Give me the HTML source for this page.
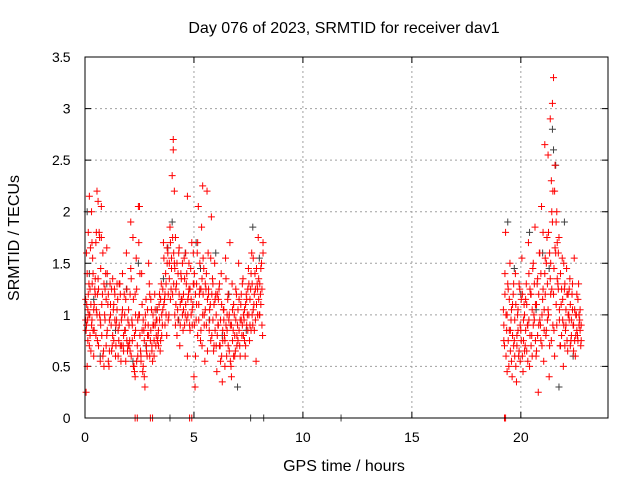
<!DOCTYPE html>
<html><head><meta charset="utf-8"><style>
body{margin:0;background:#fff;}
svg{display:block;font-family:"Liberation Sans",sans-serif;}
</style></head><body>
<svg id="chart" width="640" height="480" viewBox="0 0 640 480">
<text x="344" y="33" text-anchor="middle" font-size="16">Day 076 of 2023, SRMTID for receiver dav1</text>
<text x="344" y="471" text-anchor="middle" font-size="16">GPS time / hours</text>
<text transform="translate(19,238) rotate(-90)" text-anchor="middle" font-size="16">SRMTID / TECUs</text>
<g id="grid"></g><g id="ticks"></g><g id="gray"></g><g id="red"></g>
<rect x="85" y="57" width="523" height="361" fill="none" stroke="#000" stroke-width="1"/>
</svg>
<script>
const xTicks=[0,5,10,15,20];
const yTicks=[0,0.5,1,1.5,2,2.5,3,3.5];
const yTickLabels=["0","0.5","1","1.5","2","2.5","3","3.5"];
const redX=[0.05,0.05,0.08,0.1,0.1,0.12,0.15,0.15,0.2,0.2,0.22,0.25,0.3,0.3,0.33,0.35,0.4,0.4,0.45,0.5,0.5,0.55,0.55,0.6,0.6,0.65,0.7,0.7,0.75,0.75,0.8,0.85,0.9,0.95,1.0,1.0,1.05,1.1,1.15,1.2,1.25,1.3,1.35,1.4,1.45,1.5,1.55,1.6,1.65,1.7,1.75,1.8,1.85,1.9,1.95,2.0,2.05,2.1,2.1,2.15,2.2,2.25,2.3,2.3,2.35,2.4,2.45,2.5,2.5,2.55,2.6,2.65,2.7,2.75,2.8,2.85,2.9,2.95,3.0,3.05,3.1,3.15,3.2,3.25,3.3,3.35,3.4,3.45,3.5,3.55,3.6,3.65,3.7,3.75,3.8,3.85,3.9,3.95,4.0,4.05,4.05,4.1,4.1,4.15,4.15,4.2,4.25,4.3,4.35,4.4,4.45,4.5,4.55,4.6,4.65,4.7,4.7,4.75,4.8,4.85,4.9,4.95,5.0,5.0,5.05,5.1,5.15,5.2,5.25,5.3,5.35,5.4,5.4,5.45,5.5,5.55,5.6,5.65,5.7,5.75,5.8,5.85,5.9,5.95,6.0,6.05,6.1,6.15,6.2,6.25,6.3,6.35,6.4,6.45,6.5,6.55,6.6,6.65,6.7,6.75,6.8,6.85,6.9,6.95,7.0,7.05,7.1,7.15,7.2,7.25,7.3,7.35,7.4,7.45,7.5,7.55,7.6,7.65,7.7,7.75,7.8,7.85,7.9,7.95,8.0,8.05,8.1,8.15,
2.3,2.4,3.0,3.1,4.8,4.9,19.25,19.3,
19.2,19.25,19.3,19.35,19.4,19.45,19.5,19.55,19.6,19.65,19.7,19.75,19.8,19.85,19.9,19.95,20.0,20.05,20.1,20.15,20.2,20.25,20.3,20.35,20.4,20.45,20.5,20.55,20.6,20.65,20.7,20.75,20.8,20.85,20.9,20.95,21.0,21.05,21.1,21.1,21.15,21.2,21.25,21.25,21.3,21.35,21.35,21.4,21.4,21.45,21.45,21.5,21.5,21.55,21.55,21.6,21.65,21.65,21.7,21.75,21.8,21.85,21.9,21.95,22.0,22.05,22.1,22.15,22.2,22.25,22.3,22.35,22.4,22.45,22.5,22.55,22.6,22.65,22.7,22.75];
const redY=[0.25,0.85,1.1,0.5,1.4,0.95,1.8,1.2,2.15,0.7,1.0,1.65,2.0,0.9,1.3,1.55,1.05,0.6,1.25,0.8,1.7,2.2,1.0,2.1,1.35,1.8,0.95,0.55,1.75,2.05,1.2,0.65,1.0,1.4,0.8,1.65,1.1,0.5,1.3,0.9,0.7,1.05,1.25,0.6,0.95,1.15,0.75,1.3,0.55,1.0,0.7,1.2,0.85,1.6,0.65,1.05,0.75,1.9,1.45,0.95,1.75,0.5,1.2,0.4,1.55,0.7,2.05,2.05,1.0,0.65,1.4,0.45,0.85,0.3,1.15,0.6,0.9,1.3,0.75,1.05,0.55,0.9,1.2,0.7,0.95,0.8,1.1,0.65,1.3,0.9,1.7,1.15,1.4,0.8,1.6,1.0,1.85,1.25,2.35,2.7,2.6,1.5,2.2,1.75,0.9,1.3,1.05,1.6,0.7,1.4,1.15,0.85,1.55,1.0,1.3,2.15,0.6,1.2,0.9,1.45,1.7,1.1,0.4,1.3,0.3,0.95,1.6,2.05,1.2,0.75,1.85,2.25,1.0,1.45,0.55,1.25,2.2,1.6,0.85,1.1,1.95,1.35,0.65,1.5,1.2,0.45,0.9,1.25,0.7,1.4,0.35,1.05,0.8,1.55,0.6,1.15,0.95,1.7,0.5,1.3,0.85,1.0,0.65,1.2,0.9,1.5,0.7,1.1,0.8,1.35,0.95,0.6,1.2,1.0,1.45,0.75,1.25,1.6,0.9,1.1,1.4,0.55,1.3,1.75,1.0,1.2,1.5,0.8,
0,0,0,0,0,0,0,0,
1.05,0.7,1.8,0.85,1.3,0.5,1.5,0.95,0.4,1.2,0.75,1.4,0.35,1.0,0.6,1.25,0.85,1.55,0.45,1.1,0.7,1.3,0.9,1.7,0.5,1.2,0.8,1.45,1.0,1.85,0.6,1.3,0.25,1.6,0.9,2.05,1.15,0.55,1.4,2.65,0.8,1.75,2.55,1.05,0.4,2.9,1.35,2.3,0.75,3.05,1.9,3.3,1.2,2.2,0.6,1.6,2.0,0.9,1.3,1.75,0.7,1.1,1.55,0.5,1.25,0.85,1.45,0.65,1.0,1.35,0.75,1.2,0.9,1.55,0.6,1.0,0.8,1.3,0.95,0.7];
const redX2=[0.03,0.07,0.13,0.18,0.23,0.27,0.32,0.37,0.42,0.47,0.52,0.57,0.62,0.67,0.72,0.77,0.82,0.87,0.92,0.97,1.02,1.07,1.12,1.17,1.22,1.27,1.32,1.37,1.42,1.47,1.52,1.57,1.62,1.67,1.72,1.77,1.82,1.87,1.92,1.97,2.02,2.07,2.12,2.17,2.22,2.27,2.32,2.37,2.42,2.47,2.52,2.57,2.62,2.67,2.72,2.77,2.82,2.87,2.92,2.97,3.02,3.07,3.12,3.17,3.22,3.27,3.32,3.37,3.42,3.47,3.52,3.57,3.62,3.67,3.72,3.77,3.82,3.87,3.92,3.97,4.02,4.07,4.12,4.17,4.22,4.27,4.32,4.37,4.42,4.47,4.52,4.57,4.62,4.67,4.72,4.77,4.82,4.87,4.92,4.97,5.02,5.07,5.12,5.17,5.22,5.27,5.32,5.37,5.42,5.47,5.52,5.57,5.62,5.67,5.72,5.77,5.82,5.87,5.92,5.97,6.02,6.07,6.12,6.17,6.22,6.27,6.32,6.37,6.42,6.47,6.52,6.57,6.62,6.67,6.72,6.77,6.82,6.87,6.92,6.97,7.02,7.07,7.12,7.17,7.22,7.27,7.32,7.37,7.42,7.47,7.52,7.57,7.62,7.67,7.72,7.77,7.82,7.87,7.92,7.97,8.02,8.07,8.12,8.17];
const redY2=[1.15,0.9,1.05,1.3,0.8,1.1,0.95,1.4,0.85,1.2,1.05,0.75,1.25,1.75,0.9,1.1,0.6,1.3,0.95,1.15,0.85,1.2,0.65,1.0,1.25,0.8,1.1,0.95,0.7,1.3,0.6,0.9,1.2,0.7,1.05,0.65,0.85,1.15,0.75,0.95,0.7,1.2,0.6,0.9,0.5,0.8,1.0,0.55,0.95,1.7,0.8,0.6,1.1,0.5,0.75,0.9,0.65,1.05,0.8,1.2,0.85,0.65,1.0,0.75,0.9,0.8,1.05,0.7,0.95,1.15,1.0,1.25,1.1,0.9,1.3,1.5,1.2,1.35,1.7,1.45,1.2,1.6,1.0,1.25,1.5,0.95,1.2,1.1,1.35,1.0,1.2,0.9,1.1,1.4,1.0,1.25,0.85,1.15,1.05,1.3,0.9,1.2,1.3,0.8,1.1,1.5,1.25,0.7,1.2,1.0,1.3,0.9,1.15,1.25,1.05,0.75,1.2,0.95,1.1,0.85,1.0,0.8,1.15,0.7,0.95,0.6,0.85,1.05,0.75,0.9,0.85,0.7,1.0,0.55,0.9,0.75,1.1,0.6,0.95,0.8,1.05,0.85,0.95,1.2,0.9,1.0,0.75,1.1,0.9,1.25,1.0,1.15,0.85,1.3,1.05,1.2,0.95,1.1,1.25,1.35,1.3,1.1,1.25,1.7];
const redY3=[0.95,1.6,0.75,1.0,1.25,0.65,1.7,0.85,1.1,1.35,1.8,1.2,0.7,1.0,1.45,0.8,1.6,0.5,1.25,0.7,1.4,0.55,0.95,1.1,0.65,1.35,0.75,1.2,0.9,1.05,0.85,1.3,0.7,0.95,1.4,0.8,1.0,0.55,1.25,0.7,0.9,0.65,1.35,0.75,1.15,0.45,0.85,1.25,0.6,1.0,1.4,0.55,0.85,0.95,0.4,1.0,0.7,0.8,1.5,0.6,1.15,0.7,0.9,0.6,1.05,0.95,0.75,0.85,1.2,0.75,0.8,1.05,1.55,1.2,1.0,1.65,0.95,1.5,1.15,1.55,1.75,1.3,1.45,1.1,0.8,1.4,1.65,0.9,1.15,1.5,1.05,1.35,1.6,0.95,1.15,1.5,1.25,1.0,0.9,1.6,1.4,0.6,1.1,1.7,0.95,1.25,0.85,1.35,1.55,0.9,1.05,1.4,0.65,1.2,0.95,1.55,0.8,1.3,0.7,1.15,0.7,1.2,0.9,1.3,0.55,1.1,0.75,0.95,0.5,1.35,1.0,1.2,0.65,0.9,0.4,1.05,0.6,0.8,1.25,0.7,0.75,1.15,0.6,0.95,1.3,0.8,1.05,0.7,1.15,0.85,1.3,0.9,1.4,1.0,1.55,0.85,1.25,1.45,1.0,1.15,1.0,1.45,0.9,1.6];
const redX4=[19.22,19.27,19.32,19.37,19.42,19.47,19.52,19.57,19.62,19.67,19.72,19.77,19.82,19.87,19.92,19.97,20.02,20.07,20.12,20.17,20.22,20.27,20.32,20.37,20.42,20.47,20.52,20.57,20.62,20.67,20.72,20.77,20.82,20.87,20.92,20.97,21.02,21.07,21.12,21.17,21.22,21.27,21.32,21.37,21.42,21.47,21.52,21.57,21.62,21.67,21.72,21.77,21.82,21.87,21.92,21.97,22.02,22.07,22.12,22.17,22.22,22.27,22.32,22.37,22.42,22.47,22.52,22.57,22.62,22.67,22.72,22.77];
const redY4=[0.9,1.2,0.6,1.0,0.75,1.15,0.85,0.55,1.1,0.7,0.95,0.5,0.8,1.05,0.65,0.9,1.15,0.6,0.75,1.0,0.85,1.1,0.55,0.95,1.25,0.7,1.05,0.9,1.3,0.75,1.1,0.8,1.2,0.95,1.4,0.7,1.25,1.05,1.55,0.85,1.3,1.0,1.6,1.2,2.0,0.9,1.45,2.45,1.1,1.7,1.25,0.95,1.4,0.8,1.15,0.9,1.3,1.05,0.75,1.2,0.95,1.1,0.8,1.05,0.9,0.75,1.0,0.85,1.15,0.9,0.85,0.75];
const redY5=[0.75,1.4,1.0,0.45,1.25,0.85,0.65,1.05,0.8,1.3,0.6,1.1,0.7,0.85,1.3,0.55,0.75,1.2,0.95,0.65,1.15,0.65,0.9,1.4,0.8,1.2,0.6,1.5,0.95,1.1,0.65,1.35,0.9,1.6,0.75,1.0,1.8,0.85,1.2,1.5,0.95,1.8,0.7,1.5,1.25,2.2,0.85,1.65,1.9,1.35,1.6,1.05,0.7,1.25,0.95,1.5,0.7,0.9,1.2,1.0,1.25,0.7,0.95,1.3,0.65,1.05,0.8,1.2,0.75,1.0,1.05,0.9];
const grayX=[0.1,0.2,0.4,0.7,1.0,1.4,1.9,2.2,2.45,2.8,3.3,3.6,3.8,4.0,4.3,4.6,5.1,5.3,5.7,6.0,6.3,6.6,7.0,7.4,7.7,8.0,19.4,19.7,20.0,20.4,20.7,21.0,21.3,21.45,21.5,21.6,21.75,22.0,22.4,11.75,7.6,8.2,3.9];
const grayY=[2.0,1.4,1.15,0.6,1.3,0.85,1.25,0.55,1.5,0.7,1.05,1.35,1.65,1.9,0.95,1.6,1.7,1.45,0.95,1.6,0.8,1.2,0.3,0.85,1.85,1.55,1.9,1.45,1.2,1.8,1.05,1.6,1.45,2.8,2.6,2.45,0.3,1.9,0.6,0,0,0,0];
const X0=85,X1=608,Y0=418,Y1=57,XMAX=24,YMAX=3.5;
const sx=v=>X0+(X1-X0)*v/XMAX;
const sy=v=>Y0-(Y0-Y1)*v/YMAX;
const NS="http://www.w3.org/2000/svg";
function mk(t,a,p){const e=document.createElementNS(NS,t);for(const k in a)e.setAttribute(k,a[k]);p.appendChild(e);return e;}
const grid=document.getElementById('grid'),ticks=document.getElementById('ticks');
xTicks.forEach(v=>{const x=sx(v);
 if(v>0){const g=mk('line',{x1:x,y1:Y0,x2:x,y2:Y1,stroke:'#a0a0a0','stroke-dasharray':'2,3'},grid);
 
 }
 const t1=mk('path',{d:`M${x},${Y0}v-6M${x},${Y1}v6`,stroke:'#000'},ticks);
 
 
 const l=mk('text',{x:x,y:442,'text-anchor':'middle','font-size':'14'},ticks);l.textContent=String(v);
 
 });
yTicks.forEach((v,i)=>{const y=sy(v);
 if(v>0&&v<YMAX){const g=mk('line',{x1:X0,y1:y,x2:X1,y2:y,stroke:'#a0a0a0','stroke-dasharray':'2,3'},grid);
 
 }
 const t1=mk('path',{d:`M${X0},${y}h6M${X1},${y}h-6`,stroke:'#000'},ticks);
 
 
 const l=mk('text',{x:70,y:y+5,'text-anchor':'end','font-size':'14','letter-spacing':'-0.5'},ticks);l.textContent=yTickLabels[i];
 
 });
function plus(xs,ys,col,gid,name){const g=document.getElementById(gid);
 xs.forEach((xv,i)=>{const x=sx(xv),y=sy(ys[i]);
 const p=mk('path',{d:`M${x-3.5},${y}h7M${x},${y-3.5}v7`,stroke:col,'stroke-width':'1'},g);
 
 });}
plus(grayX,grayY,'#404040','gray','gray-point');
plus(redX,redY,'#ff0000','red','red-point');
plus(redX2,redY2,'#ff0000','red','red-point');
plus(redX2,redY3,'#ff0000','red','red-point');
plus(redX4,redY4,'#ff0000','red','red-point');
plus(redX4,redY5,'#ff0000','red','red-point');
</script>
</body></html>
